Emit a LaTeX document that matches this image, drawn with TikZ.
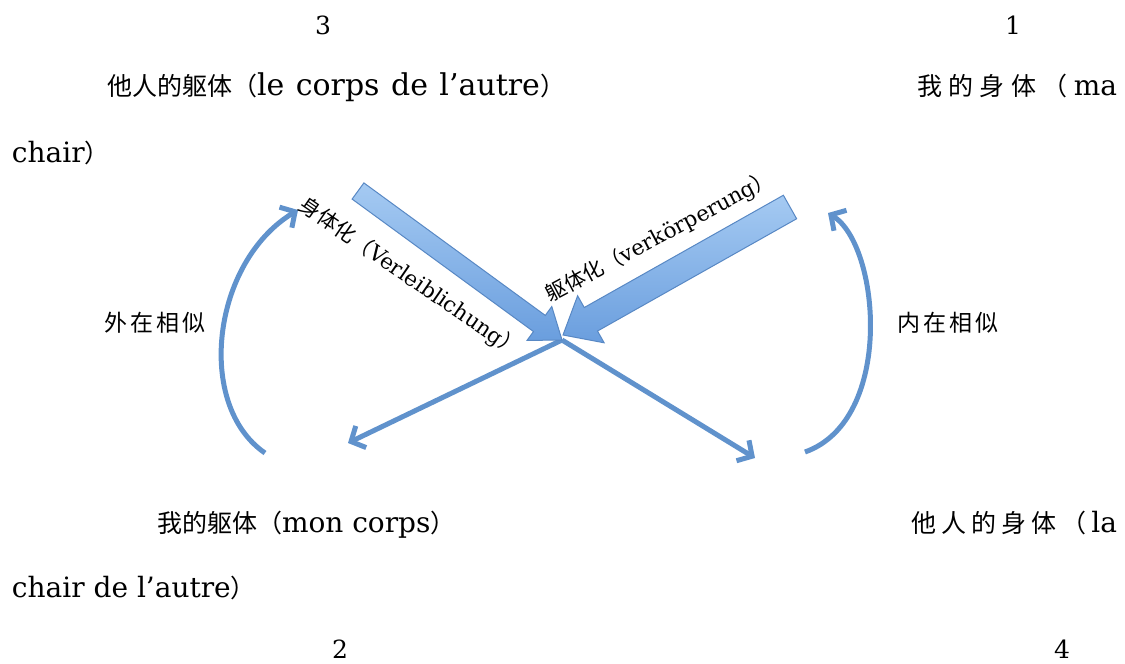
\documentclass[tikz,border=0pt]{standalone}
\usepackage{fontspec}
\setmainfont{DejaVu Serif}
\newfontfamily\cjk{Noto Sans CJK SC}
\usetikzlibrary{calc,arrows.meta}
\definecolor{linec}{RGB}{96,146,204}
\definecolor{blockline}{RGB}{88,136,196}
\definecolor{blocklight}{RGB}{165,202,242}
\definecolor{blockdark}{RGB}{106,158,222}
\newcommand\zhmain[1]{{\cjk\fontsize{25}{30}\selectfont #1}}
\newcommand\lamain[1]{{\fontsize{28}{34}\selectfont #1}}
\newcommand\lawide[1]{{\fontsize{30}{36}\selectfont #1}}
\newcommand\zhsmall[1]{{\cjk\fontsize{21}{25}\selectfont #1}}
\newcommand\lasmall[1]{{\fontsize{21.5}{26}\selectfont #1}}
\newcommand\zhmid[1]{{\cjk\fontsize{23}{28}\selectfont #1}}
\begin{document}
\begin{tikzpicture}[x=1pt,y=-1pt,
  txt/.style={inner sep=0pt,outer sep=0pt,anchor=base west},
  num/.style={inner sep=0pt,outer sep=0pt,anchor=base,font=\fontsize{25}{30}\selectfont},
  thin/.style={draw=linec,line width=5pt,-{Straight Barb[length=11pt,width=24pt]}},
  curv/.style={draw=linec,line width=5pt,-{Straight Barb[length=11pt,width=24pt]}},
  blockarrow/.style={draw=blockline,line width=1pt,top color=blocklight,bottom color=blockdark,line join=miter}]
\useasboundingbox (0,0) rectangle (1125,664);

% numbers
\node[num] (n3) at (323,34) {3};
\node[num] (n1) at (1013,34) {1};
\node[num] (n2) at (340,658) {2};
\node[num] (n4) at (1062,658) {4};

% main texts
\node[txt] (t3) at (107,95) {\makebox[458pt][s]{\zhmain{他人的躯体（}\lawide{le corps de l’autre}\zhmain{）}}};
\node[txt] (t1a) at (917,95) {\makebox[200pt][s]{\zhmain{我\hfil 的\hfil 身\hfil 体\hfil （}\hfil\lamain{ma}}};
\node[txt] (t1b) at (12,162) {\lamain{chair}\zhmain{）}};
\node[txt] (t2) at (157,532) {\zhmain{我的躯体（}\lamain{mon corps}\zhmain{）}};
\node[txt] (t4a) at (911,532) {\makebox[206pt][s]{\zhmain{他\hfil 人\hfil 的\hfil 身\hfil 体\hfil （}\hfil\lamain{la}}};
\node[txt] (t4b) at (12,597) {\lamain{chair de l’autre}\zhmain{）}};

% side labels
\node[inner sep=0pt] (ext) at (155,323) {\zhmid{外\hspace{3pt}在\hspace{3pt}相\hspace{3pt}似}};
\node[inner sep=0pt] (int) at (948,323) {\zhmid{内\hspace{3pt}在\hspace{3pt}相\hspace{3pt}似}};

% coordinates
\coordinate (O) at (562,340);
\coordinate (L) at (348,443);
\coordinate (R) at (755,458);
\coordinate (A1) at (358,191);
\coordinate (B1) at (562,340);
\coordinate (A2) at (790,207);
\coordinate (B2) at (563,335);
\coordinate (LC0) at (265,453);
\coordinate (LC1) at (298,210);
\coordinate (RC0) at (805,452);
\coordinate (RC1) at (828,213);

% thin arrows
\draw[thin] (O) -- (L);
\draw[thin] (O) -- (R);

% curved arrows
\draw[curv] (LC0) .. controls (195,405) and (212,262) .. (LC1);
\draw[curv] (RC0) .. controls (895,420) and (880,245) .. (RC1);

% block arrow 1
\path ($(B1)!28pt!(A1)$) coordinate (C1);
\draw[blockarrow] ($(A1)!10pt!90:(B1)$) -- ($(C1)!10pt!90:(B1)$) -- ($(C1)!21pt!90:(B1)$)
  -- (B1) -- ($(C1)!21pt!-90:(B1)$) -- ($(C1)!10pt!-90:(B1)$) -- ($(A1)!10pt!-90:(B1)$) -- cycle;
% block arrow 2
\path ($(B2)!32pt!(A2)$) coordinate (C2);
\draw[blockarrow] ($(A2)!13.5pt!90:(B2)$) -- ($(C2)!13.5pt!90:(B2)$) -- ($(C2)!27pt!90:(B2)$)
  -- (B2) -- ($(C2)!27pt!-90:(B2)$) -- ($(C2)!13.5pt!-90:(B2)$) -- ($(A2)!13.5pt!-90:(B2)$) -- cycle;

% rotated labels
\node[inner sep=0pt,rotate=-34.5,anchor=center] (lab1) at (410,278) {\zhsmall{身体化（}\lasmall{Verleiblichung}\zhsmall{）}};
\node[inner sep=0pt,rotate=28,anchor=center] (lab2) at (660,237) {\zhsmall{躯体化（}\lasmall{verkörperung}\zhsmall{）}};
\end{tikzpicture}
\end{document}
